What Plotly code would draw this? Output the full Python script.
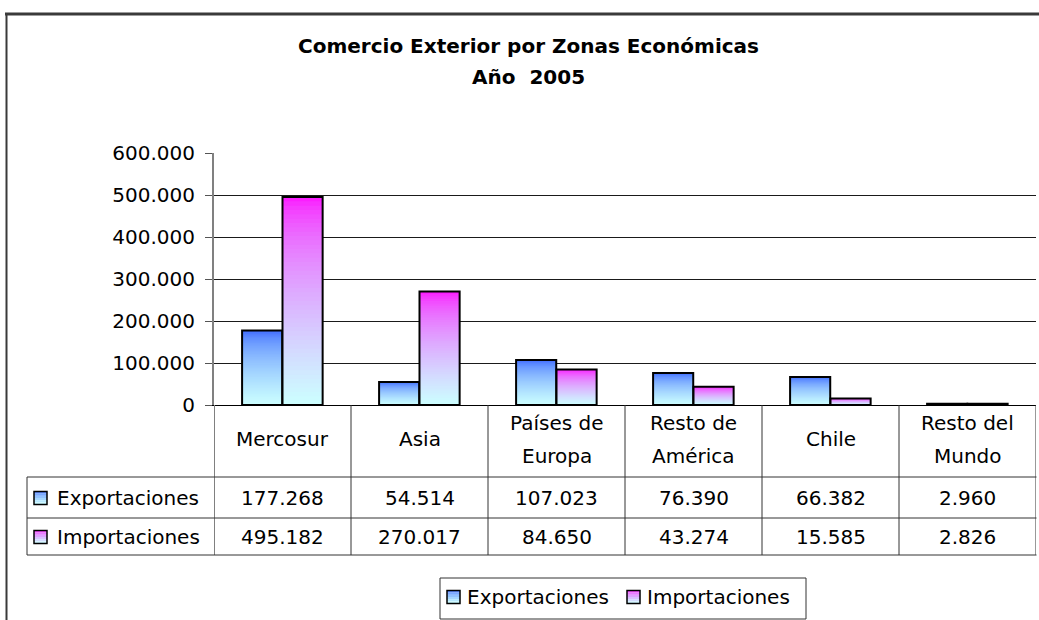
import plotly.graph_objects as go

# ---------------- data ----------------
categories = ["Mercosur", "Asia", "Países de Europa", "Resto de América", "Chile", "Resto del Mundo"]
header_lines = [["Mercosur"], ["Asia"], ["Países de", "Europa"], ["Resto de", "América"],
                ["Chile"], ["Resto del", "Mundo"]]
series_names = ["Exportaciones", "Importaciones"]
exportaciones = [177268, 54514, 107023, 76390, 66382, 2960]
importaciones = [495182, 270017, 84650, 43274, 15585, 2826]
y_ticks = [0, 100000, 200000, 300000, 400000, 500000, 600000]
title_lines = ["Comercio Exterior por Zonas Económicas", "Año  2005"]

# ---------------- layout helpers ----------------
W, H = 1039, 620
PL, PR, PT, PB = 214, 1036, 153, 405
FONT = "DejaVu Sans"
FS = 20


def xp(px):
    return (px - PL) / (PR - PL)


def yp(py):
    return (PB - py) / (PB - PT)


def fmt(v):
    return f"{v:,}".replace(",", ".")


BOTTOM = (204, 255, 255)
TOPS = [(51, 95, 255), (255, 10, 255)]
OFFSETS = [-0.295, 0.0]
BW = 0.293


def grad(top, t):
    f = t ** 0.55
    return "rgb({},{},{})".format(*[round(a + (b - a) * f) for a, b in zip(top, BOTTOM)])


fig = go.Figure()

N = 48
for name, vals, top, off in zip(series_names, [exportaciones, importaciones], TOPS, OFFSETS):
    xs, ys, cs = [], [], []
    for k in range(N, 0, -1):
        t = (N - k + 0.5) / N
        col = grad(top, t)
        for c, v in zip(categories, vals):
            xs.append(c)
            ys.append(v * k / N)
            cs.append(col)
    fig.add_trace(go.Bar(x=xs, y=ys, name=name, width=BW, offset=off,
                         marker=dict(color=cs, line=dict(width=0)),
                         hoverinfo="skip", showlegend=False))
    fig.add_trace(go.Bar(x=categories, y=vals, name=name, width=BW, offset=off,
                         marker=dict(color="rgba(0,0,0,0)", line=dict(color="black", width=2)),
                         hoverinfo="skip", showlegend=False))

shapes = []
annotations = []
LC = "#333333"

# outer chart border (partially visible)
shapes.append(dict(type="line", xref="paper", yref="paper", x0=xp(5), x1=xp(1040),
                   y0=yp(14), y1=yp(14), line=dict(color="#3a3a3a", width=3)))
shapes.append(dict(type="line", xref="paper", yref="paper", x0=xp(6.5), x1=xp(6.5),
                   y0=yp(14), y1=yp(621), line=dict(color="#3a3a3a", width=2)))

# data table lines
ROW_TOP, ROW1, ROW2 = 477, 518, 555
for k in range(len(categories) + 1):
    shapes.append(dict(type="line", xref="x", yref="paper", x0=k - 0.5, x1=k - 0.5,
                       y0=yp(405), y1=yp(ROW2),
                       line=dict(color="#808080" if k == 0 else LC, width=2 if k == 0 else 1)))
for yy in [ROW_TOP, ROW1, ROW2]:
    shapes.append(dict(type="line", xref="paper", yref="paper", x0=xp(27), x1=xp(1036.5),
                       y0=yp(yy), y1=yp(yy), line=dict(color=LC, width=1)))
shapes.append(dict(type="line", xref="paper", yref="paper", x0=xp(27), x1=xp(27),
                   y0=yp(ROW_TOP), y1=yp(ROW2), line=dict(color=LC, width=1)))

# header labels
for c, lines in zip(categories, header_lines):
    ys_ = [439] if len(lines) == 1 else [423, 456]
    for ln, yy in zip(lines, ys_):
        annotations.append(dict(text=ln, xref="x", yref="paper", x=c, y=yp(yy),
                                showarrow=False, xanchor="center", yanchor="middle",
                                font=dict(family=FONT, size=FS, color="black")))

# values rows
row_y = [498, 537]


def swatch(x0, yc, top):
    size = 13
    y0 = yc - size / 2
    bands = 6
    for b in range(bands):
        t = (b + 0.5) / bands
        shapes.append(dict(type="rect", xref="paper", yref="paper",
                           x0=xp(x0), x1=xp(x0 + size),
                           y0=yp(y0 + b * size / bands), y1=yp(y0 + (b + 1) * size / bands),
                           fillcolor=grad(top, t), line=dict(width=0)))
    shapes.append(dict(type="rect", xref="paper", yref="paper",
                       x0=xp(x0), x1=xp(x0 + size), y0=yp(y0), y1=yp(y0 + size),
                       fillcolor="rgba(0,0,0,0)", line=dict(color="black", width=1.5)))


for name, vals, top, yy in zip(series_names, [exportaciones, importaciones], TOPS, row_y):
    swatch(34, yy, top)
    annotations.append(dict(text=name, xref="paper", yref="paper", x=xp(55), y=yp(yy),
                            showarrow=False, xanchor="left", yanchor="middle",
                            font=dict(family=FONT, size=FS, color="black")))
    for c, v in zip(categories, vals):
        annotations.append(dict(text=fmt(v), xref="x", yref="paper", x=c, y=yp(yy),
                                showarrow=False, xanchor="center", yanchor="middle",
                                font=dict(family=FONT, size=FS, color="black")))

# legend box
shapes.append(dict(type="rect", xref="paper", yref="paper", x0=xp(440), x1=xp(806),
                   y0=yp(578), y1=yp(619), line=dict(color=LC, width=1),
                   fillcolor="rgba(0,0,0,0)"))
leg_y = 597
for name, top, sx, tx in zip(series_names, TOPS, [447, 627], [465, 645]):
    swatch(sx, leg_y, top)
    annotations.append(dict(text=name, xref="paper", yref="paper", x=xp(tx), y=yp(leg_y),
                            showarrow=False, xanchor="left", yanchor="middle",
                            font=dict(family=FONT, size=FS, color="black")))

# title
for ln, yy in zip(title_lines, [46, 77]):
    annotations.append(dict(text="<b>" + ln + "</b>", xref="paper", yref="paper",
                            x=xp(528), y=yp(yy), showarrow=False,
                            xanchor="center", yanchor="middle",
                            font=dict(family=FONT, size=20, color="black")))

fig.update_layout(
    width=W, height=H,
    margin=dict(l=PL, r=W - PR, t=PT, b=H - PB, pad=0),
    paper_bgcolor="white", plot_bgcolor="white",
    barmode="overlay",
    showlegend=False,
    shapes=shapes,
    annotations=annotations,
    xaxis=dict(type="category", categoryorder="array", categoryarray=categories,
               range=[-0.5, len(categories) - 0.5], showticklabels=False,
               showline=True, linecolor="black", linewidth=1, ticks="",
               showgrid=False, zeroline=False, fixedrange=True),
    yaxis=dict(range=[0, 600000], tickvals=y_ticks, ticktext=[fmt(v) for v in y_ticks],
               showline=True, linecolor="#808080", linewidth=2,
               ticks="outside", ticklen=7, tickcolor="#555555", tickwidth=1,
               ticklabelstandoff=6,
               showgrid=True, gridcolor="#1a1a1a", gridwidth=1, zeroline=False,
               tickfont=dict(family=FONT, size=FS, color="black"), fixedrange=True),
)

fig.write_html("out.html", config={"staticPlot": True},
               post_script="document.body.style.margin='0';document.body.style.overflow='hidden';")
